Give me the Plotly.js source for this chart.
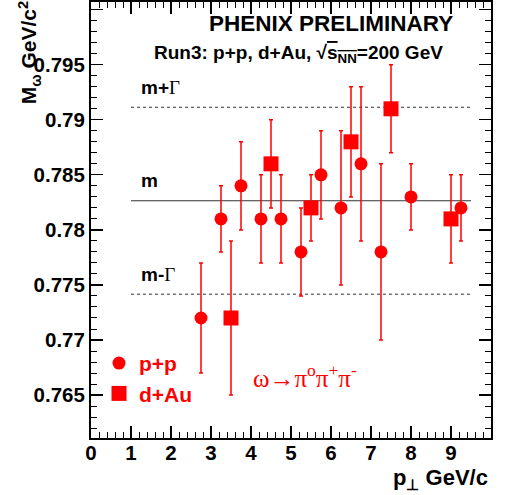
<!DOCTYPE html>
<html><head><meta charset="utf-8">
<script src="https://cdn.plot.ly/plotly-3.0.1.min.js"></script>
<style>html,body{margin:0;padding:0;background:#fff}#c{width:505px;height:495px}</style>
</head><body><div id="c"></div>
<script>
var ppX = [2.75, 3.25, 3.75, 4.25, 4.75, 5.25, 5.75, 6.25, 6.75, 7.25, 8.0, 9.25];
var ppY = [0.772, 0.781, 0.784, 0.781, 0.781, 0.778, 0.785, 0.782, 0.786, 0.778, 0.783, 0.782];
var ppErr = [0.005, 0.003, 0.004, 0.004, 0.004, 0.004, 0.004, 0.007, 0.007, 0.008, 0.003, 0.003];
var dAuX = [3.5, 4.5, 5.5, 6.5, 7.5, 9.0];
var dAuY = [0.772, 0.786, 0.782, 0.788, 0.791, 0.781];
var dAuErr = [0.007, 0.004, 0.003, 0.005, 0.004, 0.004];
var massM = 0.78265;
var widthG = 0.00849;
var lineX = [1.0, 9.5];
var xTicks = [0,1,2,3,4,5,6,7,8,9];
var yTicks = [0.765,0.77,0.775,0.78,0.785,0.79,0.795,0.8];
var yTickText = ['0.765','0.77','0.775','0.78','0.785','0.79','0.795','0.8'];

var RED = '#ff0000';
var SANS = 'Liberation Sans, Arial, sans-serif';
var SERIF = 'Liberation Serif, Times New Roman, serif';

var traces = [
  {x: lineX, y: [massM, massM], mode: 'lines', line: {color: '#333', width: 1.2}, showlegend: false, hoverinfo: 'skip'},
  {x: lineX, y: [massM + widthG, massM + widthG], mode: 'lines', line: {color: '#333', width: 1, dash: 'dot'}, showlegend: false, hoverinfo: 'skip'},
  {x: lineX, y: [massM - widthG, massM - widthG], mode: 'lines', line: {color: '#333', width: 1, dash: 'dot'}, showlegend: false, hoverinfo: 'skip'},
  {x: ppX, y: ppY, name: 'p+p', mode: 'markers', type: 'scatter',
   marker: {symbol: 'circle', size: 13, color: RED},
   error_y: {type: 'data', array: ppErr, visible: true, color: RED, thickness: 1.5, width: 2}},
  {x: dAuX, y: dAuY, name: 'd+Au', mode: 'markers', type: 'scatter',
   marker: {symbol: 'square', size: 15, color: RED},
   error_y: {type: 'data', array: dAuErr, visible: true, color: RED, thickness: 1.5, width: 2}}
];

var bold = function(sz, col){ return {family: SANS, size: sz, color: col || '#000', weight: 'bold'}; };

var layout = {
  width: 505, height: 495,
  margin: {l: 91, r: 14, t: 2, b: 57},
  paper_bgcolor: '#fff', plot_bgcolor: '#fff',
  showlegend: true,
  legend: {x: 0.02, y: 0.218, xanchor: 'left', yanchor: 'top', bgcolor: 'rgba(0,0,0,0)',
           font: bold(21, RED), itemwidth: 30, tracegroupgap: 0},
  xaxis: {range: [0, 10], tickvals: xTicks, ticktext: xTicks.map(String),
          ticks: 'inside', ticklen: 12, tickwidth: 1.2, tickcolor: '#000',
          minor: {dtick: 0.2, ticks: 'inside', ticklen: 6, tickwidth: 1, tickcolor: '#000'},
          showline: true, linecolor: '#000', linewidth: 2, mirror: 'ticks',
          showgrid: false, zeroline: false, tickfont: bold(20.5), ticklabelstandoff: -5},
  yaxis: {range: [0.7611, 0.8007], tickvals: yTicks, ticktext: yTickText,
          ticks: 'inside', ticklen: 12, tickwidth: 1.2, tickcolor: '#000',
          minor: {dtick: 0.001, ticks: 'inside', ticklen: 6, tickwidth: 1, tickcolor: '#000'},
          showline: true, linecolor: '#000', linewidth: 2, mirror: 'ticks',
          showgrid: false, zeroline: false, tickfont: bold(20.5), ticklabelstandoff: 0},
  annotations: [
    {xref: 'x', yref: 'y', x: 9.1, y: 0.79873, xanchor: 'right', yanchor: 'middle', showarrow: false,
     text: 'PHENIX PRELIMINARY', font: bold(22.5)},
    {xref: 'x', yref: 'y', x: 8.85, y: 0.7960, xanchor: 'right', yanchor: 'middle', showarrow: false,
     text: 'Run3: p+p, d+Au, √<span style="text-decoration:overline">s<sub>NN</sub></span>=200 GeV', font: bold(19)},
    {xref: 'x', yref: 'y', x: 1.2, y: massM + widthG + 0.0007, xanchor: 'left', yanchor: 'bottom', showarrow: false,
     text: 'm+<span style="font-family:Liberation Serif;font-weight:normal">Γ</span>', font: bold(19)},
    {xref: 'x', yref: 'y', x: 1.2, y: massM + 0.0007, xanchor: 'left', yanchor: 'bottom', showarrow: false,
     text: 'm', font: bold(19)},
    {xref: 'x', yref: 'y', x: 1.2, y: massM - widthG + 0.0007, xanchor: 'left', yanchor: 'bottom', showarrow: false,
     text: 'm-<span style="font-family:Liberation Serif;font-weight:normal">Γ</span>', font: bold(19)},
    {xref: 'x', yref: 'y', x: 4.0, y: 0.7667, xanchor: 'left', yanchor: 'middle', showarrow: false,
     text: 'ω→π<sup>o</sup>π<sup>+</sup>π<sup>-</sup>', font: {family: SERIF, size: 25, color: RED}},
    {xref: 'paper', yref: 'paper', x: -0.155, y: 1.005, xanchor: 'center', yanchor: 'top', showarrow: false,
     textangle: -90, text: 'M<sub>ω</sub> GeV/c<sup>2</sup>', font: bold(21)},
    {xref: 'paper', yref: 'paper', x: 0.9975, y: -0.094, xanchor: 'right', yanchor: 'middle', showarrow: false,
     text: 'p<sub>⊥</sub> GeV/c', font: bold(22)}
  ]
};

Plotly.newPlot('c', traces, layout, {displayModeBar: false, staticPlot: true});
</script></body></html>
